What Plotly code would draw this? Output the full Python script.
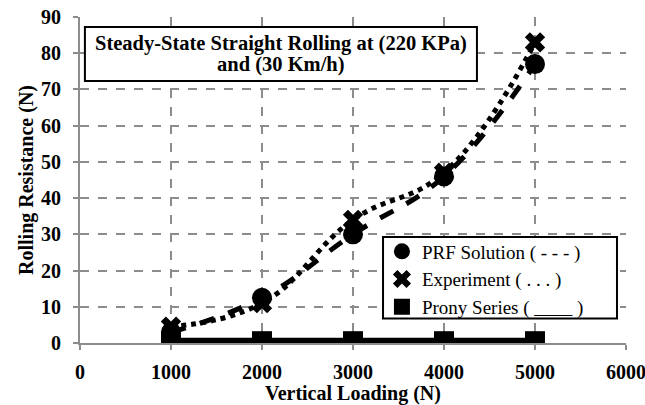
import plotly.graph_objects as go

# Vertical load (N) and rolling resistance (N) for each method
loads = [1000, 2000, 3000, 4000, 5000]
prf_solution = [3.0, 12.5, 30.0, 46.0, 77.0]
experiment = [4.5, 11.0, 34.0, 47.0, 83.0]
prony_series = [0.5, 0.5, 0.5, 0.5, 0.5]

x_ticks = [0, 1000, 2000, 3000, 4000, 5000, 6000]
y_ticks = [0, 10, 20, 30, 40, 50, 60, 70, 80, 90]

title_lines = ["Steady-State Straight Rolling at (220 KPa)", "and (30 Km/h)"]

SERIF = "Liberation Serif, Times New Roman, serif"
GRID = "#8c8c8c"

fig = go.Figure()

# Trend curves (drawn under the markers)
fig.add_trace(go.Scatter(
    x=loads, y=prf_solution, mode="lines", line_shape="spline",
    line=dict(color="black", width=5, dash="dash", smoothing=1.2),
    showlegend=False, hoverinfo="skip"))
fig.add_trace(go.Scatter(
    x=loads, y=experiment, mode="lines", line_shape="spline",
    line=dict(color="black", width=5, dash="dot", smoothing=1.2),
    showlegend=False, hoverinfo="skip"))
fig.add_trace(go.Scatter(
    x=loads, y=prony_series, mode="lines",
    line=dict(color="black", width=7), showlegend=False, hoverinfo="skip"))

# Data markers
fig.add_trace(go.Scatter(
    x=loads, y=prf_solution, mode="markers", name="PRF Solution ( - - - )",
    marker=dict(symbol="circle", size=20, color="black")))
fig.add_trace(go.Scatter(
    x=loads, y=experiment, mode="markers", name="Experiment ( . . . )",
    marker=dict(symbol="x", size=18, color="black")))
fig.add_trace(go.Scatter(
    x=loads, y=prony_series, mode="markers", name="Prony Series ( ____ )",
    marker=dict(symbol="square", size=20, color="black")))

axis_common = dict(
    showgrid=True, gridcolor=GRID, griddash="dash", gridwidth=1.5,
    showline=True, linecolor=GRID, linewidth=2,
    ticks="outside", tickcolor=GRID, ticklen=5, tickwidth=1.5,
    zeroline=False, ticklabeloverflow="allow", automargin=False,
    tickfont=dict(family=SERIF, size=20, color="black", weight="bold"),
)

fig.update_xaxes(
    range=[0, 6000], tickvals=x_ticks, ticktext=[str(v) for v in x_ticks],
    ticklabelstandoff=5,
    title=dict(text="<b>Vertical Loading (N)</b>", standoff=10,
               font=dict(family=SERIF, size=20, color="black")),
    **axis_common)
fig.update_yaxes(
    range=[0, 90], tickvals=y_ticks, ticktext=[str(v) for v in y_ticks],
    ticklabelstandoff=8,
    title=dict(text="<b>Rolling Resistance (N)</b>", standoff=2,
               font=dict(family=SERIF, size=20, color="black")),
    **axis_common)

# Boxed chart caption in the upper-left of the plot area
fig.add_shape(
    type="rect", xref="paper", yref="paper",
    x0=0.009, x1=0.727, y0=0.804, y1=0.969,
    line=dict(color="black", width=2), fillcolor="white", layer="above")
for text, ypos in zip(title_lines, [0.920, 0.853]):
    fig.add_annotation(
        xref="paper", yref="paper", x=0.368, y=ypos,
        xanchor="center", yanchor="middle", showarrow=False,
        align="center", text=f"<b>{text}</b>",
        font=dict(family=SERIF, size=20.5, color="black"))

# Frame behind the legend entries
fig.add_shape(
    type="rect", xref="paper", yref="paper",
    x0=0.555, x1=0.9835, y0=0.075, y1=0.325,
    line=dict(color="black", width=2), fillcolor="white", layer="above")

fig.update_layout(
    width=645, height=405, autosize=False,
    margin=dict(l=80, r=19, t=17, b=62, autoexpand=False),
    plot_bgcolor="white", paper_bgcolor="white",
    legend=dict(
        x=0.553, y=0.339, xanchor="left", yanchor="top",
        bgcolor="rgba(0,0,0,0)", borderwidth=0,
        font=dict(family=SERIF, size=19, color="black"),
        itemwidth=30, tracegroupgap=0),
)

fig.write_html("out.html")
